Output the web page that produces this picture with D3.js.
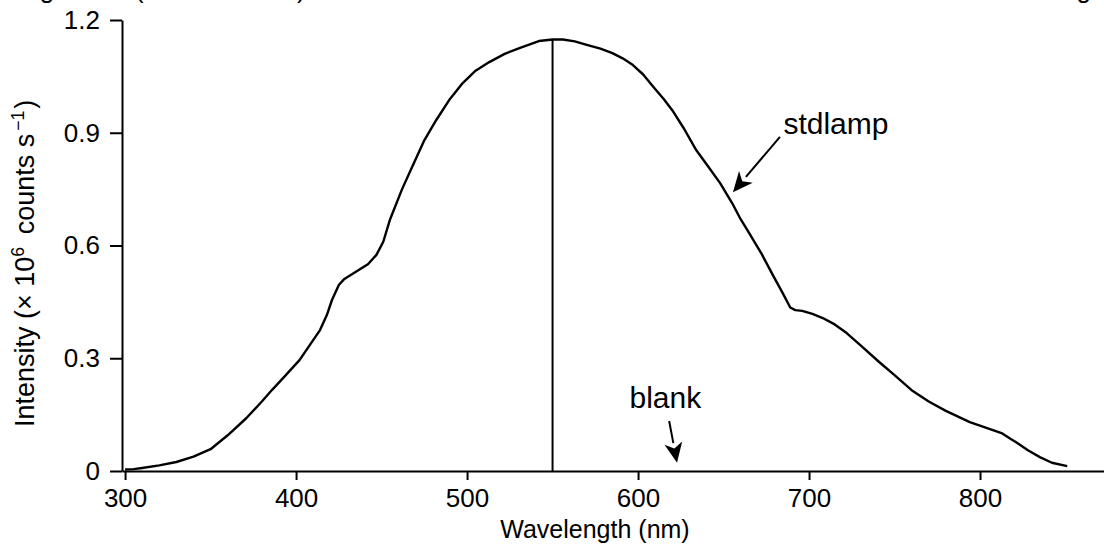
<!DOCTYPE html>
<html>
<head>
<meta charset="utf-8">
<script src="https://cdn.jsdelivr.net/npm/d3@7"></script>
<style>
  body { margin: 0; background: #fff; }
  svg { display: block; }
  text { font-family: "Liberation Sans", Arial, sans-serif; fill: #000; }
</style>
</head>
<body>
<svg width="1104" height="544"></svg>
<script>
// spectrum (nm, x 10^6 counts/s)
var wavelengths = [300, 305, 310, 320, 330, 340, 350, 360, 371, 380, 386, 394, 402, 408, 414, 418, 421, 425, 428, 435,
  442, 447, 451, 455, 462, 468, 475, 482, 490, 497, 505, 513, 522, 531, 542, 550, 556, 563, 570, 578,
  585, 591, 597, 603, 609, 615, 620, 627, 634, 641, 648, 655, 660, 665, 672, 679, 685, 689, 692, 696,
  702, 708, 715, 722, 730, 741, 750, 760, 770, 780, 794, 805, 813, 818, 822, 828, 835, 842, 851];
var intensity = [0.004, 0.005, 0.008, 0.015, 0.024, 0.038, 0.058, 0.095, 0.141, 0.185, 0.216, 0.255, 0.295, 0.335, 0.375, 0.415, 0.455, 0.495, 0.51, 0.53,
  0.55, 0.575, 0.61, 0.67, 0.75, 0.81, 0.88, 0.934, 0.99, 1.03, 1.065, 1.088, 1.11, 1.126, 1.144, 1.148, 1.148, 1.143, 1.134, 1.124,
  1.112, 1.098, 1.08, 1.055, 1.022, 0.99, 0.96, 0.91, 0.854, 0.81, 0.766, 0.713, 0.67, 0.633, 0.58, 0.52, 0.47, 0.435, 0.428, 0.426,
  0.418, 0.407, 0.39, 0.367, 0.335, 0.29, 0.255, 0.215, 0.185, 0.16, 0.13, 0.113, 0.1, 0.085, 0.074, 0.055, 0.037, 0.022, 0.013];

var xTicks = [300, 400, 500, 600, 700, 800];
var yTicks = [0, 0.3, 0.6, 0.9, 1.2];
var yTickLabels = ["0", "0.3", "0.6", "0.9", "1.2"];

// vertical marker at the peak
var peakWavelength = 550;
var peakIntensity = 1.148;

// annotations in data units
var annotNames = ["stdlamp", "blank"];
var annotLabelAt = [[685, 0.897], [595, 0.168]];
var annotArrowFrom = [[683, 0.889], [618.2, 0.133]];
var annotArrowTo = [[655.5, 0.742], [622.8, 0.022]];

var svg = d3.select("svg"),
    margin = {top: 20, right: 0, bottom: 73, left: 122},
    width = +svg.attr("width") - margin.left - margin.right,
    height = +svg.attr("height") - margin.top - margin.bottom,
    g = svg.append("g")
        .attr("transform", "translate(" + margin.left + "," + margin.top + ")");

var fontSize = 26;

var x = d3.scaleLinear()
    .domain([298.2, 872.5])
    .range([0, width]);

var y = d3.scaleLinear()
    .domain([0, 1.2])
    .range([height, 0]);

// caption line cut off at the top of the page
svg.append("text")
    .attr("x", 18)
    .attr("y", -2)
    .attr("font-size", fontSize)
    .text("Figure 12 (Colour online)");
svg.append("text")
    .attr("x", 1091)
    .attr("y", -2)
    .attr("font-size", fontSize)
    .attr("text-anchor", "end")
    .text("Setting");

// x axis
var xAxis = g.append("g")
    .attr("transform", "translate(0," + height + ")")
    .call(d3.axisBottom(x).tickValues(xTicks).tickSize(9).tickSizeOuter(0).tickPadding(9));

// y axis
var yAxis = g.append("g")
    .call(d3.axisLeft(y).tickValues(yTicks).tickSize(12).tickSizeOuter(0).tickPadding(10)
      .tickFormat(function(d, i) { return yTickLabels[i]; }));

[xAxis, yAxis].forEach(function(ax) {
  ax.attr("font-size", fontSize).attr("font-family", null);
  ax.select(".domain").attr("stroke-width", 2);
  ax.selectAll(".tick line").attr("stroke-width", 2);
  ax.selectAll(".tick text").attr("fill", "#000");
});

// axis titles
svg.append("text")
    .attr("x", 595)
    .attr("y", 538)
    .attr("font-size", 25)
    .attr("text-anchor", "middle")
    .text("Wavelength (nm)");

var yTitle = svg.append("text")
    .attr("transform", "translate(34,427) rotate(-90)")
    .attr("font-size", 27)
    .attr("text-anchor", "start");
yTitle.append("tspan").text("Intensity (\u00d7 10");
yTitle.append("tspan").attr("font-size", "0.65em").attr("baseline-shift", "super").text("6");
yTitle.append("tspan").attr("dx", 5).text(" counts s");
yTitle.append("tspan").attr("dx", 3).attr("font-size", "0.65em").attr("baseline-shift", "super").text("\u22121");
yTitle.append("tspan").attr("dx", 2).text(")");

// vertical line at peak
g.append("line")
    .attr("x1", x(peakWavelength))
    .attr("x2", x(peakWavelength))
    .attr("y1", y(0))
    .attr("y2", y(peakIntensity))
    .attr("stroke", "#000")
    .attr("stroke-width", 2);

// spectrum
var line = d3.line()
    .x(function(d, i) { return x(wavelengths[i]); })
    .y(function(d) { return y(d); });

g.append("path")
    .datum(intensity)
    .attr("fill", "none")
    .attr("stroke", "#000")
    .attr("stroke-width", 2.4)
    .attr("stroke-linejoin", "round")
    .attr("d", line);

// labels with arrows
annotNames.forEach(function(name, i) {
  g.append("text")
      .attr("x", x(annotLabelAt[i][0]))
      .attr("y", y(annotLabelAt[i][1]))
      .attr("font-size", 30)
      .text(name);

  var x0 = x(annotArrowFrom[i][0]), y0 = y(annotArrowFrom[i][1]),
      x1 = x(annotArrowTo[i][0]), y1 = y(annotArrowTo[i][1]);
  var ang = Math.atan2(y1 - y0, x1 - x0),
      headLen = 20, headW = 9;
  var bx = x1 - headLen * Math.cos(ang), by = y1 - headLen * Math.sin(ang);

  g.append("line")
      .attr("x1", x0).attr("y1", y0)
      .attr("x2", bx).attr("y2", by)
      .attr("stroke", "#000")
      .attr("stroke-width", 2);

  g.append("path")
      .attr("d", "M" + x1 + "," + y1 +
        "L" + (bx + headW * Math.sin(ang)) + "," + (by - headW * Math.cos(ang)) +
        "L" + (x1 - headLen * 0.72 * Math.cos(ang)) + "," + (y1 - headLen * 0.72 * Math.sin(ang)) +
        "L" + (bx - headW * Math.sin(ang)) + "," + (by + headW * Math.cos(ang)) + "Z")
      .attr("fill", "#000");
});
</script>
</body>
</html>
